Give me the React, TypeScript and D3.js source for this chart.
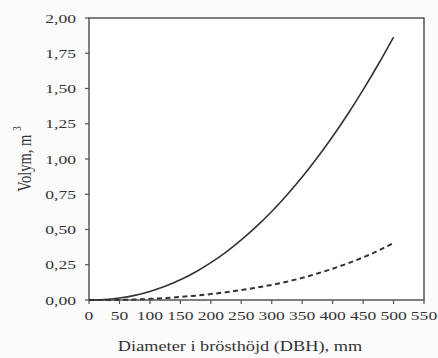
import React from 'react';
import * as d3 from 'd3';

const diameters = [0, 25, 50, 75, 100, 125, 150, 175, 200, 225, 250, 275, 300, 325, 350, 375, 400, 425, 450, 475, 500];
const volumeSolid = [0, 0.003, 0.014, 0.033, 0.061, 0.097, 0.143, 0.199, 0.265, 0.34, 0.426, 0.522, 0.628, 0.745, 0.872, 1.01, 1.159, 1.319, 1.49, 1.672, 1.865];
const volumeDashed = [0, 0, 0.001, 0.003, 0.008, 0.014, 0.022, 0.031, 0.042, 0.055, 0.07, 0.088, 0.107, 0.13, 0.157, 0.188, 0.222, 0.26, 0.302, 0.35, 0.405];
const xTicks = [0, 50, 100, 150, 200, 250, 300, 350, 400, 450, 500, 550];
const yTicks = [0, 0.25, 0.5, 0.75, 1, 1.25, 1.5, 1.75, 2];

const W = 438;
const H = 358;
const margin = { top: 18, right: 14, bottom: 58, left: 89 };
const font = '"Liberation Serif", "DejaVu Serif", serif';
// the reference text looks stretched sideways
const stretch = 1.35;

export default function App() {
  const x = d3.scaleLinear().domain([0, 550]).range([margin.left, W - margin.right]);
  const y = d3.scaleLinear().domain([0, 2]).range([H - margin.bottom, margin.top]);

  const line = d3.line<number>()
    .x((_, i) => x(diameters[i]))
    .y(d => y(d))
    .curve(d3.curveMonotoneX);

  const fmt = (v: number) => v.toFixed(2).replace('.', ',');
  const x0 = x(0), x1 = x(550), y0 = y(0), y1 = y(2);

  return (
    <svg width={W} height={H} style={{ position: 'absolute', left: 0, top: 0, background: '#fbfbfb' }}
      fontFamily={font}>
      <rect x={x0} y={y1} width={x1 - x0} height={y0 - y1} fill="#fff" stroke="#555" strokeWidth={1.5} />

      {yTicks.map(t => (
        <g key={'y' + t}>
          <line x1={x0 - 4} x2={x0} y1={y(t)} y2={y(t)} stroke="#555" strokeWidth={1.2} />
          <text transform={`translate(${x0 - 13},${y(t)}) scale(${stretch},1)`} dy="0.35em" textAnchor="end"
            fontSize={13} fill="#333">{fmt(t)}</text>
        </g>
      ))}

      {xTicks.map(t => (
        <g key={'x' + t}>
          <line x1={x(t)} x2={x(t)} y1={y0} y2={y0 + 4} stroke="#555" strokeWidth={1.2} />
          <text transform={`translate(${x(t)},${y0 + 20}) scale(${stretch},1)`} textAnchor="middle"
            fontSize={13} fill="#333">{t}</text>
        </g>
      ))}

      <path d={line(volumeDashed) || ''} fill="none" stroke="#333" strokeWidth={2} strokeDasharray="5,3.5" />
      <path d={line(volumeSolid) || ''} fill="none" stroke="#333" strokeWidth={1.6} />

      <text transform={`translate(240,351) scale(1.22,1)`} textAnchor="middle" fontSize={15} fill="#333">
        Diameter i brösthöjd (DBH), mm
      </text>
      <text transform={`translate(31,${(y0 + y1) / 2}) scale(1.3,1) rotate(-90)`} textAnchor="middle"
        fontSize={14.5} fill="#333">
        Volym, m<tspan dx={4} dy={-8} fontSize={9}>3</tspan>
      </text>
    </svg>
  );
}
